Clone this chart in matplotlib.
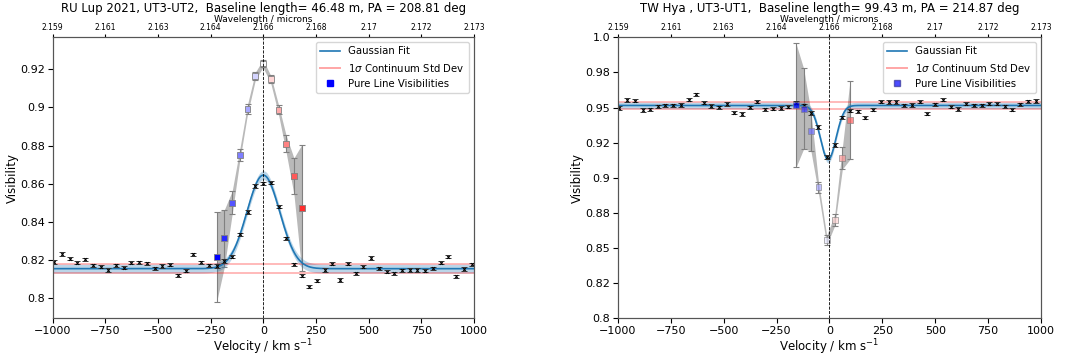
import numpy as np
import matplotlib
matplotlib.use('Agg')
import matplotlib.pyplot as plt
from matplotlib.lines import Line2D
from matplotlib.colors import Normalize

# ---- data ----
vel_ticks = [-1000, -750, -500, -250, 0, 250, 500, 750, 1000]
wl_labels = ['2.159', '2.161', '2.163', '2.164', '2.166', '2.168', '2.17', '2.172', '2.173']

# RU Lup, UT3-UT2
title_l = 'RU Lup 2021, UT3-UT2,  Baseline length= 46.48 m, PA = 208.81 deg'
vel_l = [-993, -956, -919, -883, -846, -809, -772, -736, -699, -662, -626, -589, -552, -515,
         -479, -442, -405, -369, -332, -295, -259, -222, -185, -148, -112, -75, -38, -2,
         35, 72, 108, 145, 182, 218, 255, 292, 328, 365, 401, 438, 475, 511, 548, 585,
         621, 658, 695, 731, 768, 805, 841, 878, 915, 951, 988]
vis_l = [0.8190, 0.8232, 0.8207, 0.8185, 0.8204, 0.8173, 0.8164, 0.8148, 0.8174, 0.8160,
         0.8187, 0.8188, 0.8183, 0.8157, 0.8169, 0.8176, 0.8120, 0.8145, 0.8230, 0.8188,
         0.8174, 0.8169, 0.8195, 0.8218, 0.8335, 0.8452, 0.8588, 0.8602, 0.8605, 0.8480,
         0.8314, 0.8178, 0.8118, 0.8061, 0.8092, 0.8148, 0.8181, 0.8095, 0.8181, 0.8130,
         0.8165, 0.8213, 0.8157, 0.8140, 0.8132, 0.8147, 0.8147, 0.8147, 0.8143, 0.8157,
         0.8186, 0.8218, 0.8115, 0.8153, 0.8177]
err_l = [0.0008, 0.0009, 0.0009, 0.0008, 0.0008, 0.0008, 0.0008, 0.0008, 0.0008, 0.0009,
         0.0008, 0.0008, 0.0008, 0.0009, 0.0008, 0.0008, 0.0008, 0.0008, 0.0009, 0.0009,
         0.0008, 0.0008, 0.0009, 0.0009, 0.0009, 0.0009, 0.0009, 0.0009, 0.0008, 0.0008,
         0.0008, 0.0009, 0.0009, 0.0008, 0.0009, 0.0008, 0.0009, 0.0010, 0.0009, 0.0006,
         0.0008, 0.0010, 0.0009, 0.0009, 0.0008, 0.0008, 0.0009, 0.0009, 0.0008, 0.0009,
         0.0009, 0.0008, 0.0008, 0.0009, 0.0009]
pl_vel_l = [-222, -185, -148, -112, -75, -38, -2, 35, 72, 108, 145, 182]
pl_vis_l = [0.8215, 0.8314, 0.8501, 0.8750, 0.8991, 0.9164, 0.9230, 0.9147, 0.8988,
            0.8809, 0.8640, 0.8474]
pl_err_l = [0.0235, 0.015, 0.006, 0.003, 0.0025, 0.002, 0.002, 0.002, 0.0025, 0.0044,
            0.0095, 0.033]
fit_l = dict(base=0.8155, amp=0.049, cen=0.0, sig=78.0)
std_l = 0.0023

# TW Hya, UT3-UT1
title_r = 'TW Hya , UT3-UT1,  Baseline length= 99.43 m, PA = 214.87 deg'
vel_r = [-995, -957, -921, -883, -847, -811, -777, -739, -703, -666, -630, -594, -558, -522,
         -484, -449, -414, -377, -341, -303, -267, -231, -196, -158, -122, -88, -52, -13,
         25, 61, 97, 133, 169, 208, 244, 281, 317, 354, 390, 427, 463, 500, 537, 573,
         610, 646, 683, 719, 756, 792, 829, 865, 902, 938, 976]
vis_r = [0.9497, 0.9554, 0.9549, 0.9483, 0.9488, 0.9509, 0.9516, 0.9516, 0.9518, 0.9556,
         0.9596, 0.9535, 0.9511, 0.9502, 0.9527, 0.9463, 0.9454, 0.9502, 0.9542, 0.9488,
         0.9492, 0.9497, 0.9506, 0.9535, 0.9516, 0.9463, 0.9359, 0.9146, 0.9233, 0.9431,
         0.9478, 0.9475, 0.9428, 0.9483, 0.9542, 0.9540, 0.9540, 0.9516, 0.9518, 0.9542,
         0.9456, 0.9523, 0.9556, 0.9506, 0.9490, 0.9528, 0.9516, 0.9516, 0.9528, 0.9528,
         0.9509, 0.9483, 0.9523, 0.9544, 0.9546]
err_r = [0.0011, 0.0011, 0.0011, 0.0012, 0.0011, 0.0011, 0.0011, 0.0011, 0.0011, 0.0011,
         0.0011, 0.0011, 0.0011, 0.0011, 0.0014, 0.0011, 0.0011, 0.0011, 0.0011, 0.0011,
         0.0011, 0.0011, 0.0011, 0.0012, 0.0012, 0.0013, 0.0014, 0.0014, 0.0013, 0.0012,
         0.0011, 0.0011, 0.0011, 0.0011, 0.0013, 0.0012, 0.0013, 0.0011, 0.0011, 0.0011,
         0.0011, 0.0011, 0.0012, 0.0011, 0.0011, 0.0011, 0.0011, 0.0011, 0.0011, 0.0011,
         0.0011, 0.0011, 0.0011, 0.0012, 0.0012]
pl_vel_r = [-158, -122, -88, -52, -13, 25, 61, 97]
pl_vis_r = [0.9516, 0.9492, 0.9333, 0.8932, 0.8555, 0.8700, 0.9139, 0.9411]
pl_err_r = [0.044, 0.0286, 0.014, 0.004, 0.0035, 0.004, 0.0077, 0.028]
fit_r = dict(base=0.9515, amp=-0.0385, cen=-6.0, sig=37.0)
std_r = 0.0023


def gauss(v, p):
    return p['base'] + p['amp'] * np.exp(-(v - p['cen'])**2 / (2 * p['sig']**2))


def panel(ax, title, vel, vis, err, pvel, pvis, perr, fit, std, ylim, yticks, ylabels, alpha):
    vv = np.linspace(-1000, 1000, 800)
    model = gauss(vv, fit)
    pvel = np.array(pvel)
    pvis = np.array(pvis)
    perr = np.array(perr)

    ax.fill_between(pvel, pvis - perr, pvis + perr, color='gray', alpha=0.55, lw=0, zorder=1)
    ax.errorbar(pvel, pvis, yerr=perr, fmt='none', ecolor='gray', elinewidth=0.8,
                capsize=2.5, capthick=0.8, zorder=2)
    ax.fill_between(vv, model - std, model + std, color='#1f77b4', alpha=0.3, lw=0, zorder=2)
    ax.plot(vv, model, color='#1f77b4', lw=1.2, zorder=4)
    ax.axhline(fit['base'] + std, color='red', alpha=0.35, lw=1.1, zorder=3)
    ax.axhline(fit['base'] - std, color='red', alpha=0.35, lw=1.1, zorder=3)
    ax.errorbar(vel, vis, yerr=err, fmt='x', color='k', ms=2, mew=0.7, elinewidth=0.7,
                ecolor='#333333', capsize=2.2, capthick=0.7, zorder=5)
    vmax = np.max(np.abs(pvel))
    ax.scatter(pvel, pvis, c=pvel, cmap='bwr', norm=Normalize(-vmax, vmax), marker='s',
               s=18, edgecolors='gray', linewidths=0.6, alpha=alpha, zorder=6)
    ax.axvline(0, color='k', ls='--', lw=0.6, zorder=7)

    ax.set_xlim(-1000, 1000)
    ax.set_ylim(*ylim)
    ax.set_xticks(vel_ticks)
    ax.set_yticks(yticks)
    ax.set_yticklabels(ylabels)
    ax.tick_params(labelsize=8, pad=2)
    ax.set_xlabel(r'Velocity / km s$^{-1}$', fontsize=8.5, labelpad=1)
    ax.set_ylabel('Visibility', fontsize=8.5, labelpad=1)
    for s in ax.spines.values():
        s.set_color('#555555')

    handles = [Line2D([], [], color='#1f77b4', lw=1.2),
               Line2D([], [], color='red', alpha=0.35, lw=1.4),
               Line2D([], [], ls='none', marker='s', ms=4, color='blue', alpha=alpha,
                      mec='#333399' if alpha < 1 else 'blue')]
    ax.legend(handles, ['Gaussian Fit', r'1$\sigma$ Continuum Std Dev', 'Pure Line Visibilities'],
              loc='upper right', fontsize=7.3, framealpha=0.8)

    top = ax.twiny()
    top.set_xlim(-1000, 1000)
    top.set_xticks(vel_ticks)
    top.set_xticklabels(wl_labels, fontsize=5.5)
    top.tick_params(axis='x', pad=1, length=2.5)
    top.set_xlabel('Wavelength / microns', fontsize=6.5, labelpad=1)
    for s in top.spines.values():
        s.set_color('#555555')
    ax.set_title(title, fontsize=8.5, pad=2)


fig = plt.figure(figsize=(10.66, 3.56), dpi=100)
ax1 = fig.add_axes([0.0493, 0.1059, 0.3955, 0.7893])
ax2 = fig.add_axes([0.5797, 0.1059, 0.3968, 0.7893])

panel(ax1, title_l, vel_l, vis_l, err_l, pl_vel_l, pl_vis_l, pl_err_l, fit_l, std_l,
      (0.7895, 0.9367), [0.8, 0.82, 0.84, 0.86, 0.88, 0.9, 0.92],
      ['0.8', '0.82', '0.84', '0.86', '0.88', '0.9', '0.92'], 1.0)
panel(ax2, title_r, vel_r, vis_r, err_r, pl_vel_r, pl_vis_r, pl_err_r, fit_r, std_r,
      (0.8, 1.0), [0.8, 0.825, 0.85, 0.875, 0.9, 0.925, 0.95, 0.975, 1.0],
      ['0.8', '0.82', '0.85', '0.88', '0.9', '0.92', '0.95', '0.98', '1.0'], 0.7)

fig.savefig('out.png', dpi=100)
